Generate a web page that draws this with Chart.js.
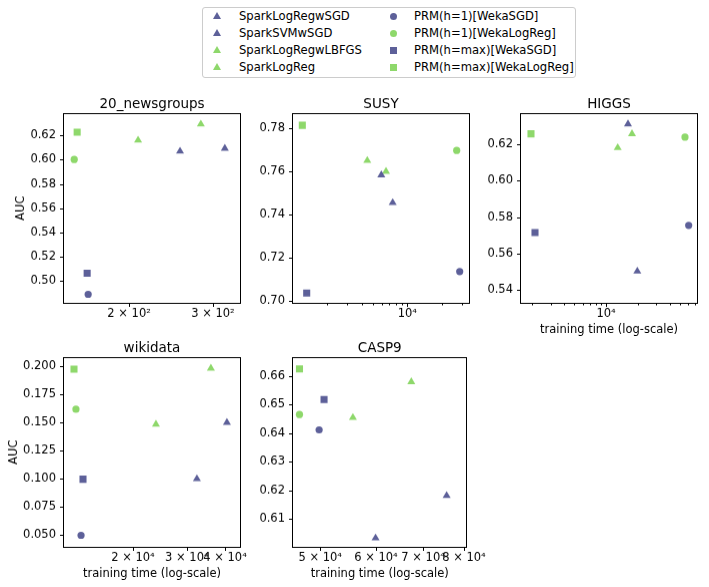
<!DOCTYPE html>
<html lang="en">
<head>
<meta charset="UTF-8">
<title>AUC vs training time</title>
<script src="https://cdn.jsdelivr.net/npm/chart.js"></script>
<style>
  body { margin: 0; background: #fff; font-family: "DejaVu Sans", sans-serif; }
  #page { position: relative; width: 709px; height: 587px; overflow: hidden; }
  .panel { position: absolute; }
  .legend { position: absolute; left: 202px; top: 7px; width: 374px; height: 71px;
            border: 1px solid #cccccc; border-radius: 3px; box-sizing: border-box; }
  .item { position: absolute; font-size: 11.6px; line-height: 13px; color: #000; white-space: nowrap; }
  .mk { position: absolute; }
</style>
</head>
<body>
<div id="page">
  <div class="legend" id="legend"></div>
</div>

<script>
// series order used in every dataset array below
const seriesNames = ['SparkLogRegwSGD', 'SparkSVMwSGD', 'SparkLogRegwLBFGS', 'SparkLogReg',
                     'PRM(h=1)[WekaSGD]', 'PRM(h=1)[WekaLogReg]', 'PRM(h=max)[WekaSGD]', 'PRM(h=max)[WekaLogReg]'];

// 20_newsgroups
const newsTime = [255.9, 317.8, 208.9, 283, 164.1, 153.4, 163.3, 155.6];
const newsAuc  = [0.6068, 0.6092, 0.6159, 0.6291, 0.4892, 0.6001, 0.5066, 0.6225];
const newsXRange = [146, 342];
const newsYRange = [0.4826, 0.6374];
const newsXTicks = [200, 300];
const newsXLabels = ['2 × 10²', '3 × 10²'];
const newsYTicks = [0.50, 0.52, 0.54, 0.56, 0.58, 0.60, 0.62];

// SUSY
const susyTime = [5943, 7464, 4487, 6530, 28560, 26890, 1334, 1222];
const susyAuc  = [0.7583, 0.7454, 0.7650, 0.7599, 0.7134, 0.7697, 0.7034, 0.7814];
const susyXRange = [1014, 34400];
const susyYRange = [0.6991, 0.7866];
const susyXTicks = [2000, 3000, 4000, 5000, 6000, 7000, 8000, 9000, 10000, 20000, 30000];
const susyXLabels = ['', '', '', '', '', '', '', '', '10⁴', '', ''];
const susyYTicks = [0.70, 0.72, 0.74, 0.76, 0.78];

// HIGGS
const higgsTime = [16160, 19810, 12910, 17640, 60790, 56080, 2123, 1945];
const higgsAuc  = [0.6310, 0.5504, 0.6180, 0.6256, 0.5755, 0.6238, 0.5716, 0.6256];
const higgsXRange = [1564, 72890];
const higgsYRange = [0.5334, 0.6364];
const higgsXTicks = [2000, 3000, 4000, 5000, 6000, 7000, 8000, 9000, 10000,
                     20000, 30000, 40000, 50000, 60000, 70000];
const higgsXLabels = ['', '', '', '', '', '', '', '', '10⁴', '', '', '', '', '', ''];
const higgsYTicks = [0.54, 0.56, 0.58, 0.60, 0.62];

// wikidata
const wikiTime = [32370, 40580, 23780, 35970, 13530, 13020, 13730, 12830];
const wikiAuc  = [0.100, 0.150, 0.1485, 0.198, 0.050, 0.1618, 0.0997, 0.1973];
const wikiXRange = [11900, 44780];
const wikiYRange = [0.0402, 0.2071];
const wikiXTicks = [20000, 30000, 40000];
const wikiXLabels = ['2 × 10⁴', '3 × 10⁴', '4 × 10⁴'];
const wikiYTicks = [0.050, 0.075, 0.100, 0.125, 0.150, 0.175, 0.200];

// CASP9
const caspTime = [59920, 75600, 55640, 67350, 49820, 46720, 50630, 46720];
const caspAuc  = [0.6034, 0.6182, 0.6455, 0.6580, 0.6412, 0.6466, 0.6518, 0.6625];
const caspXRange = [45740, 80650];
const caspYRange = [0.6005, 0.6663];
const caspXTicks = [50000, 60000, 70000, 80000];
const caspXLabels = ['5 × 10⁴', '6 × 10⁴', '7 × 10⁴', '8 × 10⁴'];
const caspYTicks = [0.61, 0.62, 0.63, 0.64, 0.65, 0.66];

// styling
const blue = 'rgba(65,68,135,0.85)';
const green = 'rgba(122,209,81,0.85)';
const seriesColor = [blue, blue, green, green, blue, green, blue, green];
const seriesShape = ['triangle', 'triangle', 'triangle', 'triangle', 'circle', 'circle', 'rect', 'rect'];
const seriesRadius = { triangle: 4.6, circle: 3.6, rect: 5 };
const FONT = 'DejaVu Sans';
const TICK_SIZE = 11.5;

const panels = [
  { name: '20_newsgroups', time: newsTime, auc: newsAuc, xr: newsXRange, yr: newsYRange,
    xt: newsXTicks, xl: newsXLabels, yt: newsYTicks, dig: 2, left: 64, top: 114, yTitle: true, xTitle: false, yPad: 12 },
  { name: 'SUSY', time: susyTime, auc: susyAuc, xr: susyXRange, yr: susyYRange,
    xt: susyXTicks, xl: susyXLabels, yt: susyYTicks, dig: 2, left: 293, top: 114, yTitle: false, xTitle: false, yPad: 12 },
  { name: 'HIGGS', time: higgsTime, auc: higgsAuc, xr: higgsXRange, yr: higgsYRange,
    xt: higgsXTicks, xl: higgsXLabels, yt: higgsYTicks, dig: 2, left: 521, top: 114, yTitle: false, xTitle: true, yPad: 12 },
  { name: 'wikidata', time: wikiTime, auc: wikiAuc, xr: wikiXRange, yr: wikiYRange,
    xt: wikiXTicks, xl: wikiXLabels, yt: wikiYTicks, dig: 3, left: 64, top: 358, yTitle: true, xTitle: true, yPad: 5 },
  { name: 'CASP9', time: caspTime, auc: caspAuc, xr: caspXRange, yr: caspYRange,
    xt: caspXTicks, xl: caspXLabels, yt: caspYTicks, dig: 2, left: 293, top: 358, yTitle: false, xTitle: true, yPad: 12 }
];

const Y_W = 62, X_H = 45, TITLE_H = 19, PAD_R = 22, AX_W = 176, AX_H = 187.5;

// box around the plot, outward tick marks (short for unlabeled minor ticks), subplot title
const framePlugin = {
  id: 'frame',
  afterDraw(chart, args, opts) {
    const { ctx, chartArea: a, scales } = chart;
    ctx.save();
    ctx.strokeStyle = '#000';
    ctx.lineWidth = 1;
    const l = Math.round(a.left) - 0.5, t = Math.round(a.top) - 0.5;
    const r = Math.round(a.right) + 0.5, b = Math.round(a.bottom) + 0.5;
    ctx.strokeRect(l, t, r - l, b - t);
    ctx.beginPath();
    scales.x.ticks.forEach(tk => {
      const px = Math.round(scales.x.getPixelForValue(tk.value)) + 0.5;
      const len = tk.label ? 3.5 : 2;
      ctx.moveTo(px, b); ctx.lineTo(px, b + len);
    });
    scales.y.ticks.forEach(tk => {
      const py = Math.round(scales.y.getPixelForValue(tk.value)) + 0.5;
      ctx.moveTo(l, py); ctx.lineTo(l - 3.5, py);
    });
    ctx.stroke();
    ctx.fillStyle = '#000';
    ctx.font = '13.5px "' + FONT + '"';
    ctx.textAlign = 'center';
    ctx.textBaseline = 'alphabetic';
    ctx.fillText(opts.text, (a.left + a.right) / 2, a.top - 6.5);
    ctx.restore();
  }
};

const page = document.getElementById('page');

panels.forEach(p => {
  const box = document.createElement('div');
  box.className = 'panel';
  box.style.left = (p.left - Y_W) + 'px';
  box.style.top = (p.top - TITLE_H) + 'px';
  box.style.width = (Y_W + AX_W + PAD_R) + 'px';
  box.style.height = (TITLE_H + AX_H + X_H) + 'px';
  const cv = document.createElement('canvas');
  box.appendChild(cv);
  page.appendChild(box);

  new Chart(cv, {
    type: 'scatter',
    data: {
      datasets: seriesNames.map((s, i) => ({
        label: s,
        data: [{ x: p.time[i], y: p.auc[i] }],
        pointStyle: seriesShape[i],
        pointRadius: seriesRadius[seriesShape[i]],
        backgroundColor: seriesColor[i],
        borderWidth: 0
      }))
    },
    options: {
      responsive: true,
      maintainAspectRatio: false,
      animation: false,
      layout: { padding: { left: 0, right: PAD_R, top: TITLE_H, bottom: 0 } },
      plugins: {
        legend: { display: false },
        tooltip: { enabled: false },
        title: { display: false },
        frame: { text: p.name }
      },
      scales: {
        x: {
          type: 'logarithmic',
          min: p.xr[0], max: p.xr[1],
          afterBuildTicks: s => { s.ticks = p.xt.map(v => ({ value: v })); },
          afterFit: s => { s.height = X_H; },
          ticks: {
            autoSkip: false, maxRotation: 0, color: '#000', padding: 5,
            font: { family: FONT, size: TICK_SIZE },
            callback: v => { const k = p.xt.indexOf(v); return k >= 0 ? p.xl[k] : ''; }
          },
          grid: { display: true, drawOnChartArea: false, drawTicks: false },
          border: { display: false },
          title: {
            display: p.xTitle, text: 'training time (log-scale)', color: '#000',
            font: { family: FONT, size: TICK_SIZE }, padding: { top: 0, bottom: 11 }
          }
        },
        y: {
          type: 'linear',
          min: p.yr[0], max: p.yr[1],
          afterBuildTicks: s => { s.ticks = p.yt.map(v => ({ value: v })); },
          afterFit: s => { s.width = Y_W; },
          ticks: {
            autoSkip: false, color: '#000', padding: 8,
            font: { family: FONT, size: TICK_SIZE },
            callback: v => Number(v).toFixed(p.dig)
          },
          grid: { display: true, drawOnChartArea: false, drawTicks: false },
          border: { display: false },
          title: {
            display: p.yTitle, text: 'AUC', color: '#000',
            font: { family: FONT, size: TICK_SIZE }, padding: { top: p.yPad, bottom: 0 }
          }
        }
      }
    },
    plugins: [framePlugin]
  });
});

// figure legend, two columns
const legend = document.getElementById('legend');
seriesNames.forEach((s, i) => {
  const col = i < 4 ? 0 : 1, row = i % 4;
  const cy = 16 + 17 * row - 7;          // relative to legend box top (box top at 7)
  const mx = (col ? 393 : 217) - 202;
  const tx = (col ? 414 : 239) - 202;
  const mk = document.createElement('div');
  mk.className = 'mk';
  const shape = seriesShape[i], c = seriesColor[i];
  if (shape === 'triangle') {
    mk.style.width = '0'; mk.style.height = '0';
    mk.style.borderLeft = '4.5px solid transparent';
    mk.style.borderRight = '4.5px solid transparent';
    mk.style.borderBottom = '7.5px solid ' + c;
    mk.style.left = (mx - 4.5 - 1) + 'px'; mk.style.top = (cy - 4 - 1) + 'px';
  } else {
    mk.style.width = '7px'; mk.style.height = '7px';
    mk.style.background = c;
    if (shape === 'circle') mk.style.borderRadius = '50%';
    mk.style.left = (mx - 3.5 - 1) + 'px'; mk.style.top = (cy - 3.5 - 1) + 'px';
  }
  legend.appendChild(mk);
  const it = document.createElement('div');
  it.className = 'item';
  it.textContent = s;
  it.style.left = (tx - 1) + 'px';
  it.style.top = (cy - 6.5 - 1) + 'px';
  legend.appendChild(it);
});
</script>
</body>
</html>
